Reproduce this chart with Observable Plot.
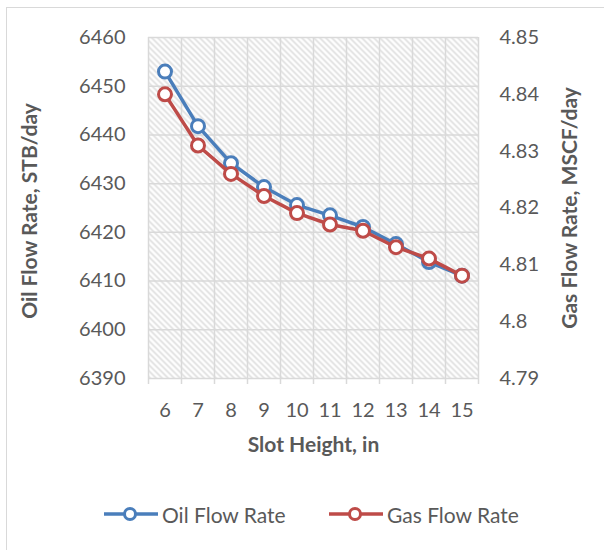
<!DOCTYPE html>
<html>
<head>
<meta charset="utf-8">
<script src="https://cdn.jsdelivr.net/npm/d3@7"></script>
<script src="https://cdn.jsdelivr.net/npm/@observablehq/plot@0.6"></script>
<style>
  html, body { margin: 0; padding: 0; background: #fff; overflow: hidden; }
  #wrap { position: relative; width: 604px; height: 550px; overflow: hidden; font-family: Lato, "Open Sans", sans-serif; }
  #border { position: absolute; left: 6px; top: 7px; width: 700px; height: 700px; border: 1.5px solid #d9d9d9; box-sizing: border-box; }
  #chart { position: absolute; left: 0; top: 0; }
  #legend { position: absolute; left: 0; top: 499px; width: 604px; height: 30px; color: #595959; font-size: 21px; }
  .item { position: absolute; top: 0; display: flex; align-items: center; height: 30px; }
  .item svg { margin-right: 3px; }
</style>
</head>
<body>
<div id="wrap">
  <div id="border"></div>
  <div id="chart"></div>
  <div id="legend"></div>
</div>
<script>
// Data
const slotHeight = [6, 7, 8, 9, 10, 11, 12, 13, 14, 15];
const oilRate = [6453.0, 6441.8, 6434.2, 6429.3, 6425.6, 6423.5, 6421.1, 6417.6, 6413.9, 6411.1];
const gasRate = [4.8400, 4.8310, 4.8260, 4.8221, 4.8191, 4.8171, 4.8160, 4.8131, 4.8111, 4.8081];
const oilTicks = [6390, 6400, 6410, 6420, 6430, 6440, 6450, 6460];
const gasTicks = [4.79, 4.80, 4.81, 4.82, 4.83, 4.84, 4.85];
const gasTickLabels = ["4.79", "4.8", "4.81", "4.82", "4.83", "4.84", "4.85"];
const seriesNames = ["Oil Flow Rate", "Gas Flow Rate"];
const seriesColors = ["#4a7ebb", "#be4b48"];

// map gas values onto the oil (left) scale
const oilMin = 6390, oilMax = 6460, gasMin = 4.79, gasMax = 4.85;
const g2o = g => oilMin + (g - gasMin) / (gasMax - gasMin) * (oilMax - oilMin);

const oilData = slotHeight.map((x, i) => ({x, y: oilRate[i]}));
const gasData = slotHeight.map((x, i) => ({x, y: g2o(gasRate[i])}));
const gridX = d3.range(slotHeight.length + 1).map(i => slotHeight[0] - 0.5 + i);

const grid = "#d9d9d9";
const textColor = "#595959";

const svg = Plot.plot({
  width: 604,
  height: 470,
  marginLeft: 148,
  marginRight: 126,
  marginTop: 37,
  marginBottom: 92,
  x: {domain: [gridX[0], gridX[gridX.length - 1]]},
  y: {domain: [oilMin, oilMax]},
  style: {fontFamily: "Lato, 'Open Sans', sans-serif", fontSize: "20px", color: textColor, background: "transparent", overflow: "visible"},
  marks: [
    Plot.frame({fill: "url(#hatch)", stroke: "none"}),
    Plot.ruleX(gridX, {stroke: grid, strokeWidth: 1.5}),
    Plot.ruleY(oilTicks, {stroke: grid, strokeWidth: 1.5}),
    Plot.axisX(gridX, {tickSize: 6, tickFormat: () => "", stroke: grid, strokeWidth: 1.5, label: null}),
    Plot.axisX(slotHeight, {tickSize: 0, tickPadding: 24, label: null, fill: textColor, tickFormat: d => String(d)}),
    Plot.axisY(oilTicks, {anchor: "left", tickSize: 0, tickPadding: 23, label: null, fill: textColor, tickFormat: d => String(d)}),
    Plot.axisY(gasTicks.map(g2o), {anchor: "right", tickSize: 0, tickPadding: 21, label: null, fill: textColor,
      tickFormat: (d, i) => gasTickLabels[i]}),
    Plot.text(["Oil Flow Rate, STB/day"], {frameAnchor: "left", dx: -118, dy: 3, rotate: -90, textAnchor: "middle", lineAnchor: "middle", fontWeight: "bold", fontSize: 21, fill: textColor}),
    Plot.text(["Gas Flow Rate, MSCF/day"], {frameAnchor: "right", dx: 92, rotate: -90, textAnchor: "middle", lineAnchor: "middle", fontWeight: "bold", fontSize: 21, fill: textColor}),
    Plot.text(["Slot Height, in"], {frameAnchor: "bottom", dy: 67, textAnchor: "middle", lineAnchor: "middle", fontWeight: "bold", fontSize: 21, fill: textColor}),
    Plot.line(oilData, {x: "x", y: "y", stroke: seriesColors[0], strokeWidth: 3.5}),
    Plot.dot(oilData, {x: "x", y: "y", r: 6.5, fill: "white", stroke: seriesColors[0], strokeWidth: 3}),
    Plot.line(gasData, {x: "x", y: "y", stroke: seriesColors[1], strokeWidth: 3.5}),
    Plot.dot(gasData, {x: "x", y: "y", r: 6.5, fill: "white", stroke: seriesColors[1], strokeWidth: 3})
  ]
});

// hatch pattern definition
const defs = d3.select(svg).insert("defs", ":first-child");
const pat = defs.append("pattern")
  .attr("id", "hatch")
  .attr("patternUnits", "userSpaceOnUse")
  .attr("width", 6).attr("height", 6);
pat.append("rect").attr("width", 6).attr("height", 6).attr("fill", "#ffffff");
pat.append("path").attr("d", "M-1,-1 L7,7 M-1,5 L1,7 M5,-1 L7,1")
  .attr("stroke", "#dedede").attr("stroke-width", 1.7);

document.getElementById("chart").appendChild(svg);

// legend
const legend = document.getElementById("legend");
const legendX = [103, 328];
seriesNames.forEach((name, i) => {
  const div = document.createElement("div");
  div.className = "item";
  div.style.left = legendX[i] + "px";
  div.innerHTML = `<svg width="56" height="30"><line x1="1" y1="15" x2="55" y2="15" stroke="${seriesColors[i]}" stroke-width="3.5"/>` +
    `<circle cx="27" cy="15" r="5.5" fill="white" stroke="${seriesColors[i]}" stroke-width="3"/></svg><span>${name}</span>`;
  legend.appendChild(div);
});
</script>
</body>
</html>
